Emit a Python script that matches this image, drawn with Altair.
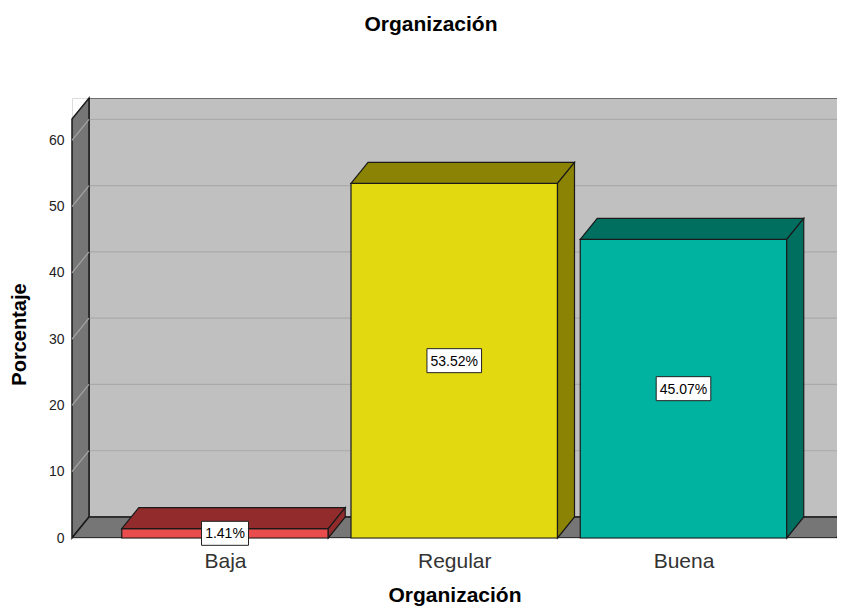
import altair as alt
import pandas as pd

# ---- data ----
categories = ["Baja", "Regular", "Buena"]
percentages = [1.41, 53.52, 45.07]
value_labels = ["1.41%", "53.52%", "45.07%"]
front_colors = ["#e84c4c", "#e3d911", "#00b3a0"]
dark_colors = ["#922c2c", "#8b8303", "#006f60"]
y_ticks = [0, 10, 20, 30, 40, 50, 60]

# ---- 3D frame geometry (in scale units) ----
SLOT_PX = 229.25          # pixels per category slot
PX_PER_UNIT = 6.627       # pixels per percentage point
PLOT_W = 765
PLOT_H = 440
X_LEFT = -153 / SLOT_PX   # front-left edge of the box
X_MAX = X_LEFT + PLOT_W / SLOT_PX
X_FLOOR_R = X_MAX - 0.5 / SLOT_PX
DX = 17 / SLOT_PX
DY = 21 / PX_PER_UNIT
Y_MAX = PLOT_H / PX_PER_UNIT
Y_TOP = Y_MAX - DY
HALF = 103.25 / SLOT_PX
BOX_H = 24 / PX_PER_UNIT

FONT = "Liberation Sans"

xs = alt.Scale(domain=[X_LEFT, X_MAX], nice=False, zero=False)
ys = alt.Scale(domain=[0, Y_MAX], nice=False, zero=False)

x_axis = alt.Axis(
    values=[0, 1, 2],
    labelExpr="['Baja','Regular','Buena'][datum.value]",
    grid=False, domain=False, ticks=False, tickSize=0,
    labelFont=FONT, labelFontSize=21, labelColor="#333333",
    labelBaseline="alphabetic", labelPadding=29,
    title="Organización", titleFont=FONT, titleFontSize=21,
    titleFontWeight="bold", titleColor="#000000",
    titleX=382.5, titleY=63, titleBaseline="alphabetic", titleAlign="center",
)
y_axis = alt.Axis(
    values=y_ticks, grid=False, domain=False, ticks=False, tickSize=0,
    labelFont=FONT, labelFontSize=14, labelColor="#222222", labelPadding=8,
    title="Porcentaje", titleFont=FONT, titleFontSize=20,
    titleFontWeight="bold", titleColor="#000000",
    titleX=-53, titleY=236, titleAngle=270, titleAlign="center",
    titleBaseline="middle",
)


def X(field):
    return alt.X(f"{field}:Q", scale=xs, axis=x_axis, stack=None)


def Y(field):
    return alt.Y(f"{field}:Q", scale=ys, axis=y_axis, stack=None)


# ---- walls ----
back_df = pd.DataFrame({"x": [X_LEFT + DX], "x2": [X_MAX + 1], "y": [DY], "y2": [Y_TOP + DY]})
back = alt.Chart(back_df).mark_rect(
    fill="#c0c0c0", stroke="#1a1a1a", strokeWidth=1.2, clip=True
).encode(x=X("x"), x2="x2", y=Y("y"), y2="y2")

grid_back_df = pd.DataFrame({
    "x": [X_LEFT + DX] * 6, "x2": [X_MAX] * 6,
    "y": [v + DY for v in y_ticks[1:]], "y2": [v + DY for v in y_ticks[1:]],
})
grid_back = alt.Chart(grid_back_df).mark_rule(color="#aaaaaa", strokeWidth=1.2).encode(
    x=X("x"), x2="x2", y=Y("y"), y2="y2")

left_df = pd.DataFrame({"x": [X_LEFT, X_LEFT + DX], "y": [0, DY], "y2": [Y_TOP, Y_TOP + DY]})
left_wall = alt.Chart(left_df).mark_area(
    orient="vertical", fill="#767676", stroke="#1a1a1a", strokeWidth=1.5
).encode(x=X("x"), y=Y("y"), y2="y2")

grid_left_df = pd.DataFrame({
    "x": [X_LEFT] * 6, "x2": [X_LEFT + DX] * 6,
    "y": y_ticks[1:], "y2": [v + DY for v in y_ticks[1:]],
})
grid_left = alt.Chart(grid_left_df).mark_rule(color="#a4a4a4", strokeWidth=1.2).encode(
    x=X("x"), x2="x2", y=Y("y"), y2="y2")

floor_df = pd.DataFrame({"y": [0, DY], "x": [X_LEFT, X_LEFT + DX], "x2": [X_FLOOR_R, X_FLOOR_R + DX]})
floor = alt.Chart(floor_df).mark_area(
    orient="horizontal", fill="#767676", stroke="#1a1a1a", strokeWidth=1.5, clip=True
).encode(y=Y("y"), x=X("x"), x2="x2")

# ---- bars ----
front_rows, top_rows, side_rows, box_rows = [], [], [], []
for i, (cat, v, lab, fc, dc) in enumerate(zip(categories, percentages, value_labels, front_colors, dark_colors)):
    c = float(i)
    front_rows.append({"cat": cat, "x": c - HALF, "x2": c + HALF, "y": 0, "y2": v, "fill": fc})
    top_rows.append({"cat": cat, "y": v, "x": c - HALF, "x2": c + HALF, "fill": dc})
    top_rows.append({"cat": cat, "y": v + DY, "x": c - HALF + DX, "x2": c + HALF + DX, "fill": dc})
    side_rows.append({"cat": cat, "x": c + HALF, "y": 0, "y2": v, "fill": dc})
    side_rows.append({"cat": cat, "x": c + HALF + DX, "y": DY, "y2": v + DY, "fill": dc})
    bw = (len(lab) * 7.6 + 9) / SLOT_PX
    box_rows.append({"cat": cat, "label": lab, "xc": c, "x": c - bw / 2, "x2": c + bw / 2,
                     "yc": v / 2, "y": v / 2 - BOX_H / 2, "y2": v / 2 + BOX_H / 2})

front = alt.Chart(pd.DataFrame(front_rows)).mark_rect(stroke="#1a1a1a", strokeWidth=1.2).encode(
    x=X("x"), x2="x2", y=Y("y"), y2="y2", fill=alt.Fill("fill:N", scale=None))
top = alt.Chart(pd.DataFrame(top_rows)).mark_area(
    orient="horizontal", stroke="#1a1a1a", strokeWidth=1.2
).encode(y=Y("y"), x=X("x"), x2="x2", detail="cat:N", fill=alt.Fill("fill:N", scale=None))
side = alt.Chart(pd.DataFrame(side_rows)).mark_area(
    orient="vertical", stroke="#1a1a1a", strokeWidth=1.2
).encode(x=X("x"), y=Y("y"), y2="y2", detail="cat:N", fill=alt.Fill("fill:N", scale=None))

box_df = pd.DataFrame(box_rows)
boxes = alt.Chart(box_df).mark_rect(fill="#ffffff", stroke="#222222", strokeWidth=1).encode(
    x=X("x"), x2="x2", y=Y("y"), y2="y2")
texts = alt.Chart(box_df).mark_text(
    font=FONT, fontSize=14, color="#000000", align="center", baseline="middle", dy=1
).encode(x=X("xc"), y=Y("yc"), text="label:N")

chart = alt.layer(
    back, grid_back, left_wall, grid_left, floor, front, top, side, boxes, texts
).properties(
    width=PLOT_W, height=PLOT_H,
    title=alt.TitleParams(
        "Organización", font=FONT, fontSize=21, fontWeight="bold", color="#000000",
        anchor="middle", frame="group", dx=-23.5, offset=60,
    ),
    autosize=alt.AutoSizeParams(type="none"),
    padding={"left": 64, "top": 90, "right": 0, "bottom": 68},
).configure_view(strokeWidth=0).configure(background="#ffffff")

chart.save("out.html", embed_options={"renderer": "svg", "actions": False})
